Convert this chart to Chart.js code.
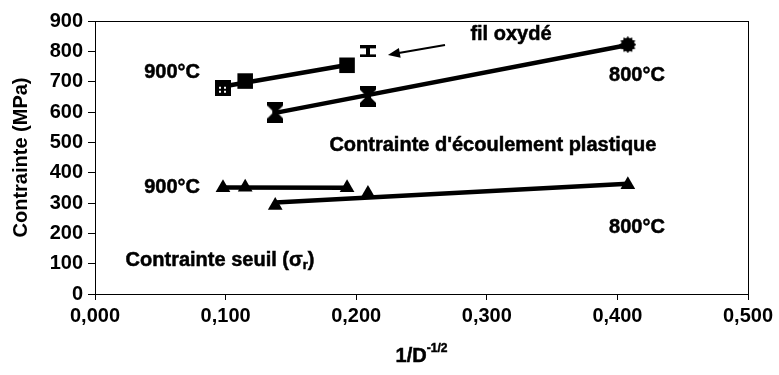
<!DOCTYPE html>
<html>
<head>
<meta charset="utf-8">
<title>Contrainte / taille de grain</title>
<script src="https://cdn.jsdelivr.net/npm/chart.js@4.4.0/dist/chart.umd.min.js"></script>
<style>
  html, body { margin: 0; padding: 0; background: #fff; }
  #wrap { width: 779px; height: 375px; position: relative; }
</style>
</head>
<body>
<div id="wrap"><canvas id="grainChart"></canvas></div>
<script>
// axe des abscisses : 1/D^-1/2
const xTicks = [0, 0.1, 0.2, 0.3, 0.4, 0.5];
const yTicks = [0, 100, 200, 300, 400, 500, 600, 700, 800, 900];

// contrainte d'écoulement plastique
const ecoul900X = [0.098, 0.115, 0.193];
const ecoul900Y = [680, 702, 754];
const ecoul800X = [0.138, 0.209, 0.408];
const ecoul800Y = [600, 652, 822];
// fil oxydé
const oxydeX = [0.209];
const oxydeY = [800];
// contrainte seuil
const seuil900X = [0.098, 0.115, 0.193];
const seuil900Y = [350, 352, 350];
const seuil800X = [0.138, 0.209, 0.408];
const seuil800Y = [292, 331, 360];

const FONT = '"Liberation Sans", Arial, sans-serif';

// petits marqueurs dessinés à la main (barres d'erreur)
function makeMarker(w, h, draw) {
    const c = document.createElement('canvas');
    c.width = w;
    c.height = h;
    const g = c.getContext('2d');
    g.fillStyle = '#000';
    draw(g, w, h);
    return c;
}

function poly(g, pts) {
    g.beginPath();
    g.moveTo(pts[0][0], pts[0][1]);
    for (let i = 1; i < pts.length; i++) g.lineTo(pts[i][0], pts[i][1]);
    g.closePath();
    g.fill();
}

const hourglass = makeMarker(16, 21, (g) => {
    poly(g, [[0, 0], [16, 0], [16, 4], [11, 9], [11, 12], [16, 17], [16, 21], [0, 21], [0, 17], [5, 12], [5, 9], [0, 4]]);
});

const ibeam = makeMarker(16, 12, (g) => {
    g.fillRect(0, 0, 16, 3);
    g.fillRect(0, 9, 16, 3);
    g.fillRect(6, 3, 4, 6);
});

const spiky = makeMarker(17, 17, (g) => {
    const pts = [];
    for (let i = 0; i < 24; i++) {
        const a = i * Math.PI / 12;
        const r = i % 2 === 0 ? 8.5 : 6.5;
        pts.push([8.5 + r * Math.cos(a), 8.5 + r * Math.sin(a)]);
    }
    poly(g, pts);
});

const dottedSquare = makeMarker(16, 16, (g) => {
    g.fillRect(0, 0, 16, 16);
    g.fillStyle = '#fff';
    g.fillRect(4, 7, 2, 2);
    g.fillRect(9, 7, 2, 2);
    g.fillRect(4, 11, 2, 2);
    g.fillRect(9, 11, 2, 2);
});

function pts(xs, ys) {
    return xs.map((x, i) => ({ x: x, y: ys[i] }));
}

// droite des moindres carrés, tracée entre le plus petit et le plus grand x
function trend(xs, ys) {
    const n = xs.length;
    const mx = xs.reduce((a, b) => a + b, 0) / n;
    const my = ys.reduce((a, b) => a + b, 0) / n;
    let sxx = 0, sxy = 0;
    for (let i = 0; i < n; i++) {
        sxx += (xs[i] - mx) * (xs[i] - mx);
        sxy += (xs[i] - mx) * (ys[i] - my);
    }
    const a = sxy / sxx;
    const x0 = Math.min(...xs), x1 = Math.max(...xs);
    return [{ x: x0, y: my + a * (x0 - mx) }, { x: x1, y: my + a * (x1 - mx) }];
}

function trendSet(xs, ys) {
    return {
        data: trend(xs, ys),
        showLine: true,
        borderColor: '#000',
        borderWidth: 4.5,
        pointRadius: 0,
        order: 2
    };
}

// textes posés dans le repère des données
const labels = [
    { text: '900°C', x: 0.059, y: 729 },
    { text: '800°C', x: 0.415, y: 722 },
    { text: 'fil oxydé', x: 0.3185, y: 854 },
    { text: "Contrainte d'écoulement plastique", x: 0.3047, y: 491 },
    { text: '900°C', x: 0.059, y: 352 },
    { text: '800°C', x: 0.415, y: 220 }
];

// texte gras un peu épaissi, comme à l'impression
function boldText(ctx, s, x, y) {
    ctx.fillText(s, x, y);
    ctx.strokeText(s, x, y);
}

const annotPlugin = {
    id: 'annot',
    afterDraw(chart) {
        const ctx = chart.ctx;
        const sx = chart.scales.x, sy = chart.scales.y;
        const area = chart.chartArea;
        ctx.save();

        // cadre de la zone de tracé
        ctx.strokeStyle = '#000';
        ctx.lineWidth = 1;
        ctx.strokeRect(area.left + 0.5, area.top + 0.5, area.right - area.left, area.bottom - area.top);

        ctx.fillStyle = '#000';
        ctx.lineWidth = 0.5;
        ctx.font = 'bold 20px ' + FONT;
        ctx.textAlign = 'center';
        ctx.textBaseline = 'middle';
        labels.forEach(l => {
            boldText(ctx, l.text, sx.getPixelForValue(l.x), sy.getPixelForValue(l.y));
        });

        // Contrainte seuil (σr) avec indice
        const big = 'bold 20px ' + FONT, small = 'bold 13px ' + FONT;
        ctx.font = big;
        const p1 = 'Contrainte seuil (σ', p3 = ')';
        const w1 = ctx.measureText(p1).width, w3 = ctx.measureText(p3).width;
        ctx.font = small;
        const w2 = ctx.measureText('r').width;
        let cx = sx.getPixelForValue(0.0957) - (w1 + w2 + w3) / 2;
        const cy = sy.getPixelForValue(111);
        ctx.textAlign = 'left';
        ctx.font = big;
        boldText(ctx, p1, cx, cy);
        ctx.font = small;
        boldText(ctx, 'r', cx + w1, cy + 5);
        ctx.font = big;
        boldText(ctx, p3, cx + w1 + w2, cy);

        // flèche vers le fil oxydé
        const ax0 = sx.getPixelForValue(0.268), ay0 = sy.getPixelForValue(821);
        const ax1 = sx.getPixelForValue(0.2243), ay1 = sy.getPixelForValue(788);
        const ang = Math.atan2(ay1 - ay0, ax1 - ax0);
        ctx.lineWidth = 2;
        ctx.beginPath();
        ctx.moveTo(ax0, ay0);
        ctx.lineTo(ax1 - 8 * Math.cos(ang), ay1 - 8 * Math.sin(ang));
        ctx.stroke();
        ctx.beginPath();
        ctx.moveTo(ax1, ay1);
        ctx.lineTo(ax1 - 12 * Math.cos(ang) + 5 * Math.sin(ang), ay1 - 12 * Math.sin(ang) - 5 * Math.cos(ang));
        ctx.lineTo(ax1 - 12 * Math.cos(ang) - 5 * Math.sin(ang), ay1 - 12 * Math.sin(ang) + 5 * Math.cos(ang));
        ctx.closePath();
        ctx.fill();

        // titre de l'axe x : 1/D^-1/2
        ctx.lineWidth = 0.5;
        ctx.font = big;
        const t1 = '1/D', t2 = '-1/2';
        const tw1 = ctx.measureText(t1).width;
        ctx.font = 'bold 12px ' + FONT;
        const tw2 = ctx.measureText(t2).width;
        let tx = (area.left + area.right) / 2 - (tw1 + tw2) / 2;
        const ty = chart.height - 19;
        ctx.font = big;
        boldText(ctx, t1, tx, ty);
        ctx.font = 'bold 12px ' + FONT;
        boldText(ctx, t2, tx + tw1, ty - 7);

        ctx.restore();
    }
};

const ctx = document.getElementById('grainChart').getContext('2d');

const grainChart = new Chart(ctx, {
    type: 'scatter',
    data: {
        datasets: [
            {
                data: pts(ecoul900X, ecoul900Y),
                pointStyle: [dottedSquare, 'rect', 'rect'],
                pointRadius: 11,
                backgroundColor: '#000',
                borderColor: '#000',
                borderWidth: 0,
                order: 1
            },
            {
                data: pts(ecoul800X, ecoul800Y),
                pointStyle: [hourglass, hourglass, spiky],
                pointRadius: 10,
                backgroundColor: '#000',
                borderColor: '#000',
                order: 1
            },
            {
                data: pts(oxydeX, oxydeY),
                pointStyle: ibeam,
                pointRadius: 8,
                backgroundColor: '#000',
                order: 1
            },
            {
                data: pts(seuil900X, seuil900Y),
                pointStyle: 'triangle',
                pointRadius: 8.5,
                backgroundColor: '#000',
                borderColor: '#000',
                borderWidth: 0,
                order: 1
            },
            {
                data: pts(seuil800X, seuil800Y),
                pointStyle: 'triangle',
                pointRadius: 8.5,
                backgroundColor: '#000',
                borderColor: '#000',
                borderWidth: 0,
                order: 1
            },
            trendSet(ecoul900X, ecoul900Y),
            trendSet(ecoul800X, ecoul800Y),
            trendSet(seuil900X, seuil900Y),
            trendSet(seuil800X, seuil800Y)
        ]
    },
    options: {
        responsive: true,
        maintainAspectRatio: false,
        animation: false,
        layout: { padding: { left: 9, right: 31, top: 21, bottom: 0 } },
        plugins: {
            legend: { display: false },
            tooltip: { enabled: false }
        },
        scales: {
            x: {
                type: 'linear',
                min: xTicks[0],
                max: xTicks[xTicks.length - 1],
                afterBuildTicks: (scale) => { scale.ticks = xTicks.map(v => ({ value: v })); },
                afterFit: (scale) => { scale.height = 81; },
                ticks: {
                    color: '#000',
                    font: { family: FONT, size: 20, weight: 'bold' },
                    padding: 4,
                    maxRotation: 0,
                    callback: (v) => v.toFixed(3).replace('.', ',')
                },
                grid: { drawOnChartArea: false, drawTicks: true, tickLength: 6, color: '#000', tickColor: '#000' },
                border: { display: true, color: '#000', width: 1 }
            },
            y: {
                min: yTicks[0],
                max: yTicks[yTicks.length - 1],
                afterBuildTicks: (scale) => { scale.ticks = yTicks.map(v => ({ value: v })); },
                afterFit: (scale) => { scale.width = 86; },
                ticks: {
                    color: '#000',
                    font: { family: FONT, size: 20, weight: 'bold' },
                    padding: 5
                },
                grid: { drawOnChartArea: false, drawTicks: true, tickLength: 7, color: '#000', tickColor: '#000' },
                border: { display: true, color: '#000', width: 1 },
                title: {
                    display: true,
                    text: 'Contrainte (MPa)',
                    color: '#000',
                    font: { family: FONT, size: 20, weight: 'bold' },
                    padding: 0
                }
            }
        }
    },
    plugins: [annotPlugin]
});
</script>
</body>
</html>
